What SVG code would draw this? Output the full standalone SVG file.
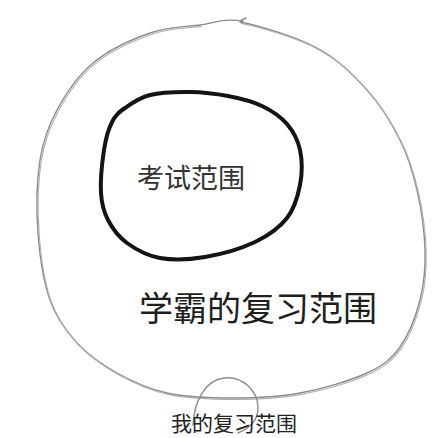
<svg xmlns="http://www.w3.org/2000/svg" width="440" height="438" viewBox="0 0 440 438">
<style>
.thin{fill:none;stroke:#8c8c8c;stroke-width:1.4;stroke-linecap:round;stroke-linejoin:round}
.thin2{fill:none;stroke:#b0b0b0;stroke-width:1.1;stroke-linecap:round}
.thick{fill:none;stroke:#141414;stroke-width:4;stroke-linejoin:round}
.t{font-family:"Noto Sans CJK SC","Noto Sans",sans-serif}
</style>
<rect width="440" height="438" fill="#ffffff"/>
<g id="outer">
<path class="thin" d="M246,18 C243,19 241,20 240,22 C259.5,25.8 295.8,36.7 317,48 S353.2,74.7 367,90 S391.7,123.3 400,140 S412.8,171.7 417,190 S424.5,231.7 425,250 S424.2,283.8 420,300 S408.8,334.8 400,347 S383.7,365.3 367,373 S322.3,388.8 300,393 S255.2,398 233,398 S186.3,397.2 167,393 S132,381.3 117,373 S88.2,355.2 77,343 S56.5,318.3 50,300 S39.7,256.3 38,233 S36.8,180.5 40,160 S48.2,126.2 57,110 S77.5,75.8 93,63 S132.2,39.3 150,33 S185,26.8 200,25 S220.5,18.2 243,21"/>
<path class="thin2" transform="translate(1.2,1.4)" d="M240,22 C259.5,25.8 295.8,36.7 317,48 S353.2,74.7 367,90 S391.7,123.3 400,140 S412.8,171.7 417,190 S424.5,231.7 425,250 S424.2,283.8 420,300 S408.8,334.8 400,347 S383.7,365.3 367,373 S322.3,388.8 300,393 S255.2,398 233,398 S186.3,397.2 167,393 S132,381.3 117,373 S88.2,355.2 77,343 S56.5,318.3 50,300 S39.7,256.3 38,233 S36.8,180.5 40,160 S48.2,126.2 57,110 S77.5,75.8 93,63 S132.2,39.3 150,33 S185,26.8 200,25"/>
<text class="t" x="139" y="321" font-size="34" fill="#1e1e1e">学霸的复习范围</text>
</g>
<g id="exam">
<path class="thick" d="M125,108 C131.3,103.5 139.2,97.7 150,95 S177,91.8 190,92 S216,93.7 228,96 S252.2,101.3 262,106 S280.7,116.7 287,124 S297.8,139.8 300,150 S302.2,173.7 300,185 S294.5,208.5 287,218 S268.7,235.5 255,242 S220.8,254.3 205,257 S173,260.3 160,258 S135.7,249.3 127,243 S112.3,228.3 108,220 S101.7,204.7 101,193 S102.2,161.8 104,150 S108.5,129 112,122 S118.7,112.5 125,108 Z"/>
<text class="t" x="137" y="188" font-size="27" fill="#333">考试范围</text>
</g>
<g id="mine">
<path class="thin" d="M193,425 C194,402 205,380 224,378 C244,376 258,392 258,408 C258,420 250,428 238,433"/>
<text class="t" x="171" y="431" font-size="21" fill="#222">我的复习范围</text>
</g>
</svg>
